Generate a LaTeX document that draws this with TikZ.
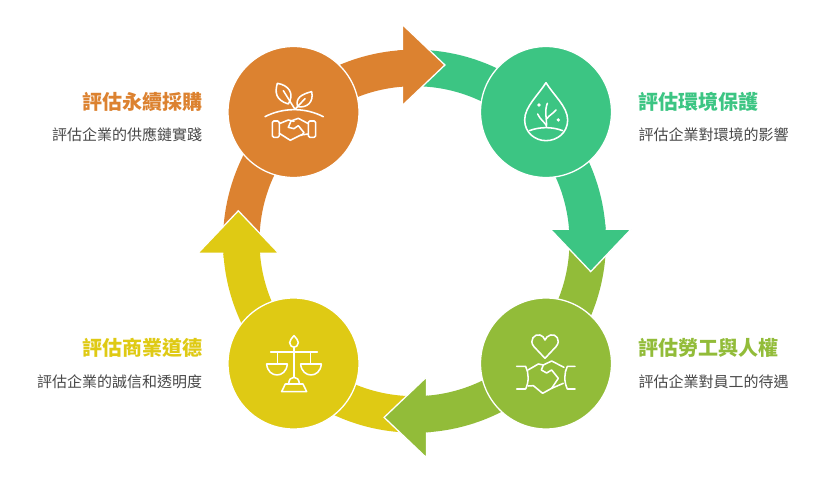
\documentclass[tikz,border=0pt]{standalone}
\usepackage{fontspec}
\setmainfont{Noto Sans CJK TC}
\definecolor{corange}{HTML}{DC8230}
\definecolor{cgreen}{HTML}{3CC583}
\definecolor{colive}{HTML}{92BC39}
\definecolor{cyellow}{HTML}{DFCA14}
\definecolor{subgray}{HTML}{484848}
\tikzset{
  hub/.style={circle,draw=white,line width=1.3pt,minimum size=131pt,inner sep=0pt},
  ttl/.style={font=\fontsize{20}{24}\selectfont\bfseries,inner sep=0pt},
  sub/.style={font=\fontsize{15}{18}\selectfont,text=subgray,inner sep=0pt},
  icon/.style={draw=white,line width=1.55pt,line join=round,line cap=round},
  headtip/.style={draw=white,line width=1.3pt,line join=miter}
}
\newcommand{\ringpart}[2]{(#1:191.5) arc[start angle=#1,end angle=#2,radius=191.5] -- (#2:155) arc[start angle=#2,end angle=#1,radius=155] -- cycle}
\begin{document}
\begin{tikzpicture}[x=1pt,y=1pt]
\useasboundingbox (0,0) rectangle (840,496);
\fill[white] (0,0) rectangle (840,496);
\coordinate (c) at (414.5,254.8);
% ring segments, below all heads
\foreach \r/\col in {0/corange,-90/cgreen,-180/colive,-270/cyellow}{
  \begin{scope}[shift={(c)},rotate=\r]
    \fill[\col] \ringpart{177.5}{93};
  \end{scope}
}
% arrow heads
\foreach \r/\col in {0/corange,-90/cgreen,-180/colive,-270/cyellow}{
  \begin{scope}[shift={(c)},rotate=\r]
    \filldraw[headtip,fill=\col] (-12,216.6) -- (30.4,176.2) -- (-12,135.8) -- cycle;
    \fill[\col] \ringpart{95}{90};
  \end{scope}
}
% hubs
\node[hub,fill=corange] (hubA) at (293.5,384) {};
\node[hub,fill=cgreen] (hubB) at (546,384) {};
\node[hub,fill=colive] (hubC) at (546,132.5) {};
\node[hub,fill=cyellow] (hubD) at (293.5,132.5) {};
% labels
\node[ttl,text=corange,anchor=east] (t1) at (202.4,394.3) {評估永續採購};
\node[sub,anchor=east] (s1) at (202.2,361.7) {評估企業的供應鏈實踐};
\node[ttl,text=cgreen,anchor=west] (t2) at (638.4,394.3) {評估環境保護};
\node[sub,anchor=west] (s2) at (638.4,361.7) {評估企業對環境的影響};
\node[ttl,text=colive,anchor=west] (t3) at (638.4,148.3) {評估勞工與人權};
\node[sub,anchor=west] (s3) at (638.4,114.7) {評估企業對員工的待遇};
\node[ttl,text=cyellow,anchor=east] (t4) at (202.4,148.3) {評估商業道德};
\node[sub,anchor=east] (s4) at (202.2,114.7) {評估企業的誠信和透明度};
% icon: sprout and handshake
\begin{scope}[shift={(220,476)},x=.3333pt,y=-.3333pt]
  \draw[icon] (205,252) .. controls (165,240) and (165,215) .. (172,190) .. controls (205,195) and (225,220) .. (205,252);
  \draw[icon] (190,212) -- (225,268);
  \draw[icon] (233,260) .. controls (225,235) and (245,222) .. (275,215) .. controls (282,245) and (262,265) .. (233,260);
  \draw[icon] (255,236) -- (225,268);
  \draw[icon] (135,290) .. controls (190,262) and (255,262) .. (310,290);
  \draw[icon,rounded corners=1.5pt] (157,303) rectangle (178,352);
  \draw[icon,rounded corners=1.5pt] (265,303) rectangle (287,352);
  \draw[icon] (178,311) -- (205,300) -- (222,304);
  \draw[icon] (265,311) -- (235,295) -- (213,303) -- (205,322) -- (222,326) -- (235,317) -- (252,338) -- (243,347);
  \draw[icon] (178,340) -- (211,361) -- (243,345) -- (265,342);
\end{scope}
% icon: drop and plant
\begin{scope}[shift={(470,456)},x=.3333pt,y=-.3333pt]
  \draw[icon] (228,128) .. controls (205,165) and (164,200) .. (164,240) .. controls (164,278) and (195,302) .. (228,302) .. controls (262,302) and (293,278) .. (293,240) .. controls (293,200) and (250,165) .. (228,128) -- cycle;
  \draw[icon] (178,272) .. controls (210,260) and (246,260) .. (278,272);
  \draw[icon] (232,190) .. controls (222,215) and (232,240) .. (229,262);
  \draw[icon] (203,222) .. controls (210,238) and (222,245) .. (229,256);
  \draw[icon] (258,210) .. controls (248,222) and (238,225) .. (231,236);
  \fill[white] (207,195) circle (5.5);
  \fill[white] (265,240) circle (5.5);
\end{scope}
% icon: heart and handshake
\begin{scope}[shift={(380,206)},x=.3333pt,y=-.3333pt]
  \draw[icon] (495,205) -- (462,170) .. controls (445,150) and (465,130) .. (480,135) .. controls (488,137) and (492,143) .. (495,150) .. controls (498,143) and (503,137) .. (512,135) .. controls (527,130) and (545,150) .. (528,170) -- cycle;
  \draw[icon] (410,229) -- (437,229) .. controls (447,250) and (447,275) .. (437,297) -- (410,297);
  \draw[icon] (585,229) -- (562,229) .. controls (552,250) and (552,275) .. (562,297) -- (585,297);
  \draw[icon] (444,240) -- (475,222) -- (490,225);
  \draw[icon] (552,232) -- (515,213) -- (490,225) -- (484,240) -- (500,249) -- (515,240) -- (535,265) -- (515,295);
  \draw[icon] (445,288) -- (460,287) -- (488,310) -- (515,295) -- (550,280);
\end{scope}
% icon: scales
\begin{scope}[shift={(190,296)},x=.3333pt,y=-.3333pt]
  \draw[icon] (312,407) .. controls (305,415) and (299,422) .. (299,428) .. controls (299,436) and (306,442) .. (312,442) .. controls (318,442) and (325,436) .. (325,428) .. controls (325,422) and (319,415) .. (312,407) -- cycle;
  \draw[icon] (312,442) -- (312,533);
  \draw[icon] (242,456) -- (382,456);
  \draw[icon] (262,456) -- (262,492);
  \draw[icon] (362,456) -- (362,492);
  \draw[icon] (230,492) -- (292,492) .. controls (290,515) and (275,525) .. (261,525) .. controls (247,525) and (232,515) .. (230,492) -- cycle;
  \draw[icon] (332,492) -- (394,492) .. controls (392,515) and (377,525) .. (363,525) .. controls (349,525) and (334,515) .. (332,492) -- cycle;
  \draw[icon] (296,552) .. controls (296,525) and (328,525) .. (328,552);
  \draw[icon] (286,552) -- (339,552) -- (350,575) -- (275,575) -- cycle;
\end{scope}
\end{tikzpicture}
\end{document}
